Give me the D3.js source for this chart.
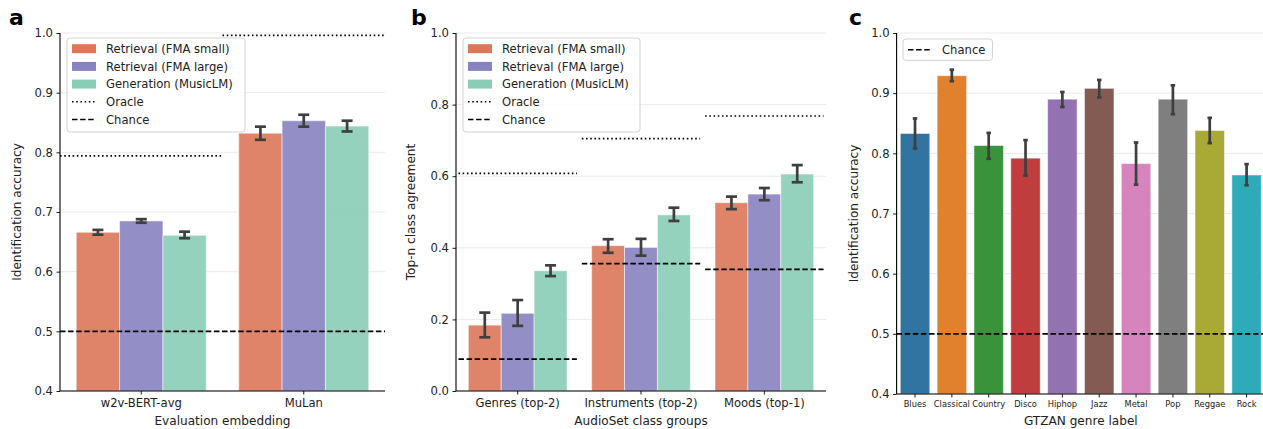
<!DOCTYPE html>
<html><head><meta charset="utf-8">
<script src="https://cdn.jsdelivr.net/npm/d3@7"></script>
<style>
body{margin:0;background:#fff;}
svg{display:block;font-family:"DejaVu Sans",sans-serif;}
</style></head>
<body>
<svg id="chart" width="1263" height="429"></svg>
<script>
// ---------- Data ----------
const seriesNames = ["Retrieval (FMA small)", "Retrieval (FMA large)", "Generation (MusicLM)"];
const seriesColors = ["#dd7759", "#8782c0", "#8acdb6"];

// Panel a
const aCategories = ["w2v-BERT-avg", "MuLan"];
const aValues = [[0.666, 0.832], [0.685, 0.853], [0.661, 0.844]];
const aErrLow = [[0.662, 0.821], [0.682, 0.843], [0.656, 0.835]];
const aErrHigh = [[0.670, 0.843], [0.688, 0.863], [0.667, 0.853]];
const aOracle = [0.794, 0.996];
const aChance = 0.5;
const aTicks = [0.4, 0.5, 0.6, 0.7, 0.8, 0.9, 1.0];

// Panel b
const bCategories = ["Genres (top-2)", "Instruments (top-2)", "Moods (top-1)"];
const bValues = [[0.184, 0.406, 0.526], [0.217, 0.401, 0.550], [0.336, 0.492, 0.606]];
const bErrLow = [[0.150, 0.386, 0.508], [0.182, 0.378, 0.533], [0.321, 0.475, 0.583]];
const bErrHigh = [[0.219, 0.424, 0.543], [0.254, 0.425, 0.567], [0.351, 0.512, 0.631]];
const bOracle = [0.608, 0.705, 0.768];
const bChance = [0.089, 0.356, 0.340];
const bTicks = [0.0, 0.2, 0.4, 0.6, 0.8, 1.0];

// Panel c
const cCategories = ["Blues", "Classical", "Country", "Disco", "Hiphop", "Jazz", "Metal", "Pop", "Reggae", "Rock"];
const cValues = [0.833, 0.929, 0.813, 0.792, 0.890, 0.908, 0.783, 0.890, 0.838, 0.764];
const cErrLow = [0.808, 0.920, 0.791, 0.763, 0.877, 0.893, 0.748, 0.865, 0.817, 0.747];
const cErrHigh = [0.858, 0.939, 0.834, 0.822, 0.902, 0.922, 0.818, 0.913, 0.859, 0.782];
const cColors = ["#3274a1", "#e1812c", "#3a923a", "#c03d3e", "#9372b2", "#845b53", "#d684bd", "#7f7f7f", "#a9aa35", "#2eabb8"];
const cChance = 0.5;
const cTicks = [0.4, 0.5, 0.6, 0.7, 0.8, 0.9, 1.0];

// ---------- Drawing ----------
const svg = d3.select("#chart");
const TXT = "#222";
const ERR = "#3f3f3f";

function axes(g, x, y, ticks, tickFont, xTickFont, xTitle, yTitle, yTitleX) {
  const [x0, x1] = x.range();
  const [yb, yt] = y.range();
  // grid
  g.append("g").selectAll("line").data(ticks).join("line")
    .attr("x1", x0).attr("x2", x1)
    .attr("y1", d => y(d)).attr("y2", d => y(d))
    .attr("stroke", "#ebebeb").attr("stroke-width", 1);
  return function finish() {
    const ya = g.append("g").attr("transform", `translate(${x0},0)`)
      .call(d3.axisLeft(y).tickValues(ticks).tickFormat(d3.format(".1f")).tickSizeOuter(0).tickSize(3.5).tickPadding(3.5));
    ya.select(".domain").attr("stroke", "#000").attr("stroke-width", 1.1).attr("d", `M0,${yb}V${yt}`);
    ya.selectAll(".tick line").attr("stroke", "#000").attr("stroke-width", 0.9);
    ya.selectAll(".tick text").attr("font-size", tickFont).attr("fill", TXT).attr("font-family", "DejaVu Sans");
    const xa = g.append("g").attr("transform", `translate(0,${yb})`)
      .call(d3.axisBottom(x).tickSizeOuter(0).tickSize(3.5).tickPadding(4));
    xa.select(".domain").attr("stroke", "#000").attr("stroke-width", 1.1).attr("d", `M${x0},0H${x1}`);
    xa.selectAll(".tick line").attr("stroke", "#000").attr("stroke-width", 0.9);
    xa.selectAll(".tick text").attr("font-size", xTickFont).attr("fill", TXT).attr("font-family", "DejaVu Sans");
    g.append("text").attr("x", (x0 + x1) / 2).attr("y", 425).attr("text-anchor", "middle")
      .attr("font-size", 12.1).attr("fill", TXT).text(xTitle);
    g.append("text").attr("transform", `translate(${yTitleX},${(yb + yt) / 2}) rotate(-90)`)
      .attr("text-anchor", "middle").attr("font-size", 12.1).attr("fill", TXT).text(yTitle);
  };
}

function errBar(g, cx, lo, hi, capW, lw) {
  g.append("line").attr("x1", cx).attr("x2", cx).attr("y1", lo).attr("y2", hi)
    .attr("stroke", ERR).attr("stroke-width", lw);
  [lo, hi].forEach(yy => g.append("line").attr("x1", cx - capW / 2).attr("x2", cx + capW / 2)
    .attr("y1", yy).attr("y2", yy).attr("stroke", ERR).attr("stroke-width", lw));
}

function legend(g, lx, ly, w, h, items) {
  g.append("rect").attr("x", lx).attr("y", ly).attr("width", w).attr("height", h)
    .attr("rx", 3).attr("fill", "#fff").attr("fill-opacity", 0.85).attr("stroke", "#d3d3d3").attr("stroke-width", 1);
  items.forEach((it, i) => {
    const cy = ly + 10.7 + i * 17.7;
    if (it.type === "patch") {
      g.append("rect").attr("x", lx + 5).attr("y", cy - 4.5).attr("width", 24).attr("height", 9).attr("fill", it.color);
    } else {
      g.append("line").attr("x1", lx + 5).attr("x2", lx + 29).attr("y1", cy).attr("y2", cy)
        .attr("stroke", "#000").attr("stroke-width", 1.6).attr("stroke-dasharray", it.dash);
    }
    g.append("text").attr("x", lx + 39).attr("y", cy + 4.2).attr("font-size", 11.6).attr("fill", TXT).text(it.label);
  });
}

const legItems = seriesNames.map((s, i) => ({type: "patch", color: seriesColors[i], label: s}))
  .concat([{type: "line", dash: "1.6,2.6", label: "Oracle"}, {type: "line", dash: "5.5,2.6", label: "Chance"}]);

// ---- Panel a ----
{
  const g = svg.append("g");
  const x = d3.scaleBand().domain(aCategories).range([60, 385]).padding(0);
  const y = d3.scaleLinear().domain([0.4, 1.0]).range([391, 33]);
  const finish = axes(g, x, y, aTicks, 11.6, 11.6, "Evaluation embedding", "Identification accuracy", 21);
  const inner = d3.scaleBand().domain(d3.range(3)).range([0, x.bandwidth() * 0.8]);
  const off = x.bandwidth() * 0.1;
  aCategories.forEach((c, ci) => {
    d3.range(3).forEach(si => {
      g.append("rect").attr("x", x(c) + off + inner(si)).attr("width", inner.bandwidth())
        .attr("y", y(aValues[si][ci])).attr("height", y(0.4) - y(aValues[si][ci]))
        .attr("fill", seriesColors[si]).attr("fill-opacity", 0.9)
        .attr("stroke", "#fff").attr("stroke-opacity", 0.5).attr("stroke-width", 1);
    });
  });
  aCategories.forEach((c, ci) => {
    d3.range(3).forEach(si => {
      errBar(g, x(c) + off + inner(si) + inner.bandwidth() / 2, y(aErrLow[si][ci]), y(aErrHigh[si][ci]), 11, 2.7);
    });
    g.append("line").attr("x1", x(c)).attr("x2", x(c) + x.bandwidth())
      .attr("y1", y(aOracle[ci])).attr("y2", y(aOracle[ci]))
      .attr("stroke", "#000").attr("stroke-width", 1.6).attr("stroke-dasharray", "1.6,2.6");
  });
  g.append("line").attr("x1", 60).attr("x2", 385).attr("y1", y(aChance)).attr("y2", y(aChance))
    .attr("stroke", "#000").attr("stroke-width", 1.7).attr("stroke-dasharray", "5.5,2.6");
  finish();
  legend(g, 67, 38, 178, 94, legItems);
  g.append("text").attr("x", 9).attr("y", 25).attr("font-size", 22).attr("font-weight", "bold").attr("fill", "#000").text("a");
}

// ---- Panel b ----
{
  const g = svg.append("g");
  const x = d3.scaleBand().domain(bCategories).range([456, 826]).padding(0);
  const y = d3.scaleLinear().domain([0, 1.0]).range([391, 33]);
  const finish = axes(g, x, y, bTicks, 11.6, 11.6, "AudioSet class groups", "Top-n class agreement", 415);
  const inner = d3.scaleBand().domain(d3.range(3)).range([0, x.bandwidth() * 0.8]);
  const off = x.bandwidth() * 0.1;
  bCategories.forEach((c, ci) => {
    d3.range(3).forEach(si => {
      g.append("rect").attr("x", x(c) + off + inner(si)).attr("width", inner.bandwidth())
        .attr("y", y(bValues[si][ci])).attr("height", y(0) - y(bValues[si][ci]))
        .attr("fill", seriesColors[si]).attr("fill-opacity", 0.9)
        .attr("stroke", "#fff").attr("stroke-opacity", 0.5).attr("stroke-width", 1);
    });
  });
  bCategories.forEach((c, ci) => {
    d3.range(3).forEach(si => {
      errBar(g, x(c) + off + inner(si) + inner.bandwidth() / 2, y(bErrLow[si][ci]), y(bErrHigh[si][ci]), 11, 2.7);
    });
    const cx = x(c) + x.bandwidth() / 2, hw = x.bandwidth() * 0.48;
    g.append("line").attr("x1", cx - hw).attr("x2", cx + hw)
      .attr("y1", y(bOracle[ci])).attr("y2", y(bOracle[ci]))
      .attr("stroke", "#000").attr("stroke-width", 1.6).attr("stroke-dasharray", "1.6,2.6");
    g.append("line").attr("x1", cx - hw).attr("x2", cx + hw)
      .attr("y1", y(bChance[ci])).attr("y2", y(bChance[ci]))
      .attr("stroke", "#000").attr("stroke-width", 1.7).attr("stroke-dasharray", "5.5,2.6");
  });
  finish();
  legend(g, 463, 38, 177, 94, legItems);
  g.append("text").attr("x", 411).attr("y", 25).attr("font-size", 22).attr("font-weight", "bold").attr("fill", "#000").text("b");
}

// ---- Panel c ----
{
  const g = svg.append("g");
  const x = d3.scaleBand().domain(cCategories).range([896.6, 1265]).padding(0);
  const y = d3.scaleLinear().domain([0.4, 1.0]).range([394, 33]);
  const finish = axes(g, x, y, cTicks, 11.6, 8.3, "GTZAN genre label", "Identification accuracy", 858);
  const bw = x.bandwidth() * 0.8, off = x.bandwidth() * 0.1;
  cCategories.forEach((c, i) => {
    g.append("rect").attr("x", x(c) + off).attr("width", bw)
      .attr("y", y(cValues[i])).attr("height", y(0.4) - y(cValues[i]))
      .attr("fill", cColors[i]).attr("stroke", "#fff").attr("stroke-opacity", 0.5).attr("stroke-width", 1);
  });
  cCategories.forEach((c, i) => {
    errBar(g, x(c) + x.bandwidth() / 2, y(cErrLow[i]), y(cErrHigh[i]), 4.5, 2.7);
  });
  g.append("line").attr("x1", 896.6).attr("x2", 1265).attr("y1", y(cChance)).attr("y2", y(cChance))
    .attr("stroke", "#000").attr("stroke-width", 1.7).attr("stroke-dasharray", "5.5,2.6");
  finish();
  legend(g, 903, 39, 89.5, 21.3, [{type: "line", dash: "5.5,2.6", label: "Chance"}]);
  g.append("text").attr("x", 849).attr("y", 25).attr("font-size", 22).attr("font-weight", "bold").attr("fill", "#000").text("c");
}
</script>
</body></html>
